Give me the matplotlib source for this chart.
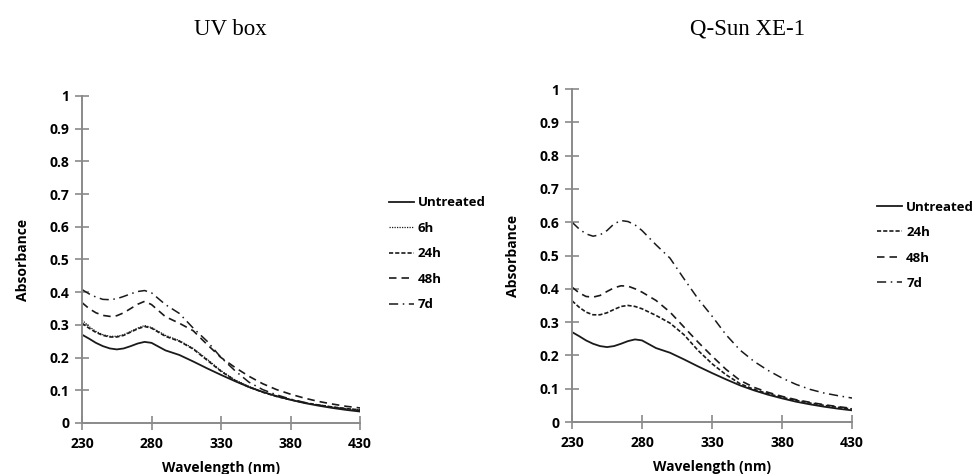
import matplotlib
matplotlib.use("Agg")
import matplotlib.pyplot as plt

# wavelength grid (nm)
wl = [230, 235, 240, 245, 250, 255, 260, 265, 270, 275, 280, 290, 300,
      310, 320, 330, 340, 350, 360, 370, 380, 390, 400, 410, 420, 430]

untreated = [0.270, 0.258, 0.245, 0.235, 0.228, 0.225, 0.228, 0.235, 0.243, 0.248, 0.245, 0.222, 0.208,
             0.188, 0.167, 0.147, 0.128, 0.110, 0.095, 0.082, 0.071, 0.061, 0.053, 0.046, 0.040, 0.035]

# UV box
uv_6h = [0.315, 0.295, 0.280, 0.270, 0.265, 0.265, 0.270, 0.280, 0.290, 0.298, 0.292, 0.268, 0.252,
         0.228, 0.195, 0.160, 0.132, 0.112, 0.095, 0.082, 0.071, 0.062, 0.055, 0.049, 0.044, 0.040]
uv_24h = [0.305, 0.290, 0.277, 0.268, 0.263, 0.263, 0.268, 0.278, 0.288, 0.295, 0.290, 0.265, 0.250,
          0.226, 0.192, 0.158, 0.130, 0.110, 0.094, 0.081, 0.071, 0.062, 0.055, 0.049, 0.044, 0.040]
uv_48h = [0.368, 0.350, 0.337, 0.329, 0.326, 0.328, 0.337, 0.350, 0.363, 0.372, 0.362, 0.325, 0.305,
          0.282, 0.240, 0.200, 0.170, 0.143, 0.120, 0.102, 0.088, 0.076, 0.066, 0.058, 0.051, 0.046]
uv_7d = [0.408, 0.395, 0.385, 0.378, 0.377, 0.380, 0.387, 0.395, 0.402, 0.405, 0.398, 0.362, 0.335,
         0.290, 0.250, 0.200, 0.160, 0.125, 0.102, 0.086, 0.073, 0.063, 0.055, 0.048, 0.043, 0.038]

# Q-Sun XE-1
qs_24h = [0.364, 0.345, 0.330, 0.322, 0.322, 0.328, 0.338, 0.347, 0.350, 0.347, 0.340, 0.320, 0.297,
          0.262, 0.215, 0.175, 0.142, 0.115, 0.098, 0.085, 0.074, 0.065, 0.057, 0.050, 0.044, 0.039]
qs_48h = [0.405, 0.388, 0.377, 0.375, 0.380, 0.392, 0.403, 0.409, 0.408, 0.400, 0.390, 0.365, 0.330,
          0.285, 0.240, 0.198, 0.158, 0.125, 0.104, 0.089, 0.077, 0.067, 0.059, 0.052, 0.046, 0.041]
qs_7d = [0.600, 0.580, 0.565, 0.558, 0.562, 0.575, 0.595, 0.605, 0.602, 0.592, 0.575, 0.532, 0.492,
         0.430, 0.370, 0.318, 0.262, 0.216, 0.182, 0.155, 0.132, 0.113, 0.098, 0.087, 0.079, 0.072]

x_ticks = [230, 280, 330, 380, 430]
y_ticks = [0, 0.1, 0.2, 0.3, 0.4, 0.5, 0.6, 0.7, 0.8, 0.9, 1]
y_labels = ["0", "0.1", "0.2", "0.3", "0.4", "0.5", "0.6", "0.7", "0.8", "0.9", "1"]

styles = {
    "Untreated": dict(ls="-", lw=1.3),
    "6h": dict(ls=(0, (1, 1)), lw=0.9),
    "24h": dict(ls=(0, (2.5, 1.2)), lw=1.2),
    "48h": dict(ls=(0, (4.5, 3)), lw=1.2),
    "7d": dict(ls=(0, (6, 3, 1, 3)), lw=1.1),
}

plt.rcParams["font.family"] = ["Open Sans", "DejaVu Sans"]
plt.rcParams["font.weight"] = "bold"
fig = plt.figure(figsize=(9.79, 4.74), dpi=100)

gray = "#8a8a8a"
line_c = "#1a1a1a"
fs = 10


def setup(ax, title, title_x):
    ax.set_xlim(230, 430)
    ax.set_ylim(0, 1)
    ax.set_xticks(x_ticks)
    ax.set_yticks(y_ticks)
    ax.set_yticklabels(y_labels)
    for s in ["top", "right"]:
        ax.spines[s].set_visible(False)
    for s in ["left", "bottom"]:
        ax.spines[s].set_color(gray)
        ax.spines[s].set_linewidth(1.4)
    ax.tick_params(direction="inout", length=10, width=1.2, color=gray,
                   labelsize=fs, pad=4)
    ax.tick_params(axis="x", pad=5)
    for lbl in ax.get_xticklabels() + ax.get_yticklabels():
        lbl.set_fontweight("bold")
    ax.set_xlabel("Wavelength (nm)", fontsize=fs, fontweight="bold", labelpad=7)
    ax.set_ylabel("Absorbance", fontsize=fs, fontweight="bold", labelpad=14)
    fig.text(title_x, 0.938, title, fontsize=16.5, family="Liberation Serif",
             fontweight="normal", ha="center", va="center")


def add_legend(ax, x, y):
    ax.legend(loc="upper left", bbox_to_anchor=(x, y), bbox_transform=fig.transFigure,
              frameon=False, fontsize=9.5, handlelength=1.9, handletextpad=0.3,
              labelspacing=0.95, borderaxespad=0, borderpad=0)


# UV box panel
ax1 = fig.add_axes([0.0838, 0.1076, 0.284, 0.690])
ax1.plot(wl, untreated, color=line_c, label="Untreated", **styles["Untreated"])
ax1.plot(wl, uv_6h, color=line_c, label="6h", **styles["6h"])
ax1.plot(wl, uv_24h, color=line_c, label="24h", **styles["24h"])
ax1.plot(wl, uv_48h, color=line_c, label="48h", **styles["48h"])
ax1.plot(wl, uv_7d, color=line_c, label="7d", **styles["7d"])
setup(ax1, "UV box", 0.235)
add_legend(ax1, 0.397, 0.586)

# Q-Sun XE-1 panel
ax2 = fig.add_axes([0.5843, 0.1097, 0.286, 0.7025])
ax2.plot(wl, untreated, color=line_c, label="Untreated", **styles["Untreated"])
ax2.plot(wl, qs_24h, color=line_c, label="24h", **styles["24h"])
ax2.plot(wl, qs_48h, color=line_c, label="48h", **styles["48h"])
ax2.plot(wl, qs_7d, color=line_c, label="7d", **styles["7d"])
setup(ax2, "Q-Sun XE-1", 0.764)
add_legend(ax2, 0.896, 0.577)

fig.savefig("out.png", dpi=100)
